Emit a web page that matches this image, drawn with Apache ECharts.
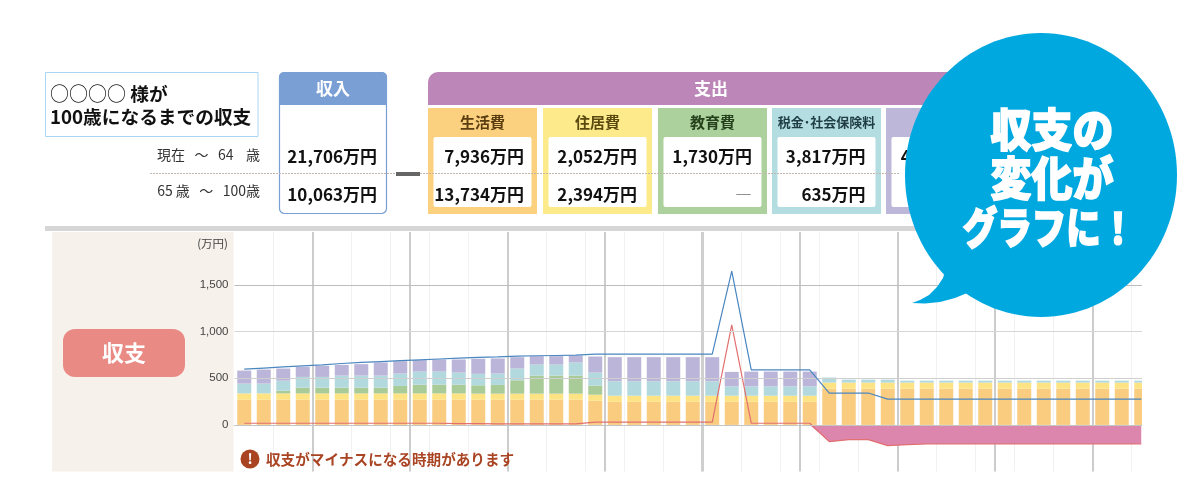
<!DOCTYPE html>
<html><head><meta charset="utf-8">
<style>html,body{margin:0;padding:0;background:#fff;overflow:hidden}#c{width:1201px;height:488px}</style>
<script src="https://cdn.jsdelivr.net/npm/echarts@6/dist/echarts.min.js"></script>
</head><body><div id="c"></div>
<script>
const ages = Array.from({length:47},(_,i)=>String(54+i));
const living =  [270,270,270,270,270,270,270,270,270,270,270,270,270,270,270,270,270,270,259,248,248,248,248,248,248,248,248,248,248,248,389,389,389,389,389,389,389,389,389,389,389,389,389,389,389,389,389];
const housing = [68,68,68,68,68,68,68,68,68,68,68,68,65,65,65,65,65,65,65,65,65,65,65,65,65,65,65,65,65,65,65,65,65,65,65,65,65,65,65,65,65,65,65,65,65,65,65];
const education=[0,0,29,62,62,62,62,62,80,94,94,94,90,94,144,194,194,194,97,0,0,0,0,0,0,0,0,0,0,0,0,0,0,0,0,0,0,0,0,0,0,0,0,0,0,0,0];
const taxes =   [105,105,108,115,115,129,129,129,133,140,140,130,123,122,126,119,119,141,141,155,155,155,155,155,155,101,101,101,101,101,54,32,32,32,21,21,21,21,21,21,21,21,21,21,21,21,21];
const others =  [140,151,130,108,119,115,123,141,133,123,130,140,162,162,122,90,90,75,172,259,259,259,259,259,259,155,158,158,158,158,0,0,0,0,0,0,0,0,0,0,0,0,0,0,0,0,0];
const income =  [598,610,622,634,645,659,670,680,689,698,707,716,725,731,738,742,745,749,760,760,760,760,760,760,760,1649,590,590,590,590,342,342,342,277,277,277,277,277,277,277,277,277,277,277,277,277,277];
const balance = [18,18,18,18,18,18,18,18,18,18,18,14,14,11,11,11,11,11,29,29,29,29,29,29,29,1073,18,18,18,18,-180,-158,-158,-223,-212,-205,-205,-205,-205,-205,-205,-205,-205,-205,-205,-205,-205];
const deficit = balance.map((v,i)=> i<29 ? null : Math.min(v,0));
const yTicks = ['0','500','1,000','1,500'];
const columns = ['生活費','住居費','教育費','税金･社会保険料','その他'];
const earlyCosts = ['7,936万円','2,052万円','1,730万円','3,817万円','4,171万円'];
const lateCosts = ['13,734万円','2,394万円','―','635万円','300万円'];
const incomeRows = ['21,706万円','10,063万円'];
const periods = ['現在   〜   64    歳','65 歳   〜   100歳'];

const F = '"Noto Sans CJK JP","Noto Sans",sans-serif';
const txt=(text,x,y,size,fill,o={})=>({type:'text',x,y,z:o.z??5,style:{text,fontFamily:o.family||F,fontSize:size,fontWeight:o.w||'bold',fill,align:o.a||'center',verticalAlign:'middle',textAlign:o.a||'center',textVerticalAlign:'middle',rich:o.rich}});
const rect=(x,y,w,h,fill,o={})=>({type:'rect',z:o.z??1,shape:{x,y,width:w,height:h,r:o.r||0},style:{fill,stroke:o.stroke,lineWidth:o.lw||0}});
const g=[];
// title block
g.push(rect(45.5,72.5,212.5,64,'#fff',{stroke:'#a9d6f2',lw:1}));
g.push(txt('{c|○○○○} 様が',50,94,18.7,'#111',{a:'left',rich:{c:{fontSize:19,fontWeight:'normal',fontFamily:F,fill:'#111'}}}));
g.push(txt('100歳になるまでの収支',50,117,18.7,'#111',{a:'left'}));
g.push(txt(periods[0],260,155,14,'#333',{a:'right',w:'normal'}));
g.push(txt(periods[1],260,191,14,'#333',{a:'right',w:'normal'}));
// income box
g.push(rect(279.5,72.5,107,141,'#fff',{stroke:'#7a9fd4',lw:1.2,r:5}));
g.push(rect(279,72,108,33,'#7a9fd4',{r:[5,5,0,0]}));
g.push(txt('収入',333,89,17,'#fff'));
incomeRows.forEach((t,i)=>g.push(txt(t,377,[157,195][i],17,'#111',{a:'right'})));
g.push(rect(396,172,24,4,'#666',{z:5}));
// expense block
g.push(rect(428,72,570,33,'#bc87b8',{r:[10,10,0,0]}));
g.push(txt('支出',711,89,17,'#fff'));
const colFill=['#fbd07f','#fdea8a','#acd19c','#b4dde2','#bdb8da'];
const colInk=['#5a3d10','#5a4a10','#24401c','#1f3d44','#333'];
const rightPad=[96,94,94,93.5,94.5];
[428,543,658,772,886].forEach((x,i)=>{
  g.push(rect(x,108,109,106,colFill[i]));
  g.push(rect(x+5.5,137,98,70,'#fff',{r:2}));
  g.push(txt(columns[i],x+54.5,122,i==3?13:15,colInk[i]));
  g.push(txt(earlyCosts[i],x+rightPad[i],157,17,'#111',{a:'right'}));
  g.push(txt(lateCosts[i],x+rightPad[i],195,17,lateCosts[i]=='―'?'#777':'#111',{a:'right'}));
});
// dotted divider
g.push({type:'line',z:4,shape:{x1:150,y1:173.5,x2:900,y2:173.5},style:{stroke:'#c3b6ac',lineWidth:1.2,lineDash:[2,1]}});
// section divider and side panel
g.push(rect(45,226,1097,5,'#d6d6d6'));
g.push(rect(52,232,181.5,239.5,'#f6f1ea',{z:-1}));
g.push(rect(63,329,122,48,'#e98a85',{r:12}));
g.push(txt('収支',124,353,22,'#fff'));
g.push(txt('(万円)',228,244,11.5,'#444',{a:'right',w:'normal'}));
// warning
g.push({type:'circle',z:10,shape:{cx:250,cy:459,r:9.5},style:{fill:'#a94423'}});
g.push(txt('!',250,459,14,'#fff',{z:11}));
g.push(txt('収支がマイナスになる時期があります',266,459,14.6,'#a94423',{a:'left',z:11}));
// right edge of plot
g.push(rect(1142,232,12,240,'#fff',{z:30}));
// speech bubble
g.push({type:'ellipse',z:40,shape:{cx:1041,cy:175,rx:136,ry:142},style:{fill:'#00a8e0'}});
g.push({type:'polygon',z:40,shape:{points:[[946,268],[943,278],[937,287],[929,295],[920,300],[912,303],[925,303.5],[940,302],[955,298],[972,291],[990,270]]},style:{fill:'#00a8e0'}});
const bub=(t,x,y,s,sy)=>g.push({type:'text',x,y,scaleY:sy,z:41,style:{text:t,fontFamily:F,fontSize:s,fontWeight:900,fill:'#fff',stroke:'#fff',lineWidth:1.4,align:'center',verticalAlign:'middle',textAlign:'center',textVerticalAlign:'middle'}});
bub('収支の',1052,130,41,1.1);
bub('変化が',1052,178,41,1.12);
bub('グラフに！',1049,228,34.5,1.25);

const barSeries=(name,data,color)=>({name,type:'bar',stack:'out',data,barWidth:14,itemStyle:{color},z:3,emphasis:{disabled:true}});
const xBase={type:'category',data:ages,boundaryGap:true,axisTick:{show:false},axisLabel:{show:false},axisLine:{show:false}};
const option={
  animation:false,
  grid:{left:234.5,top:232,width:916.5,height:239.5,containLabel:false},
  xAxis:[
    {...xBase,axisLine:{show:true,onZero:true,lineStyle:{color:'#bdbdbd',width:1}},splitLine:{show:true,showMinLine:false,lineStyle:{color:'#f1f1f1',width:1}}},
    {...xBase,position:'bottom',splitLine:{show:true,interval:(i)=>(i+1)%5===0&&i!==24,lineStyle:{color:'#cccccc',width:2}}},
    {...xBase,position:'top',splitLine:{show:true,showMinLine:false,interval:(i)=>i===0||i===24,lineStyle:{color:'#cfcfcf',width:3}}}
  ],
  yAxis:{type:'value',z:6,min:-500,max:2070,interval:500,axisLine:{show:false},axisTick:{show:false},
    axisLabel:{margin:6,padding:[3,0,0,0],fontFamily:'Liberation Sans, Arial, sans-serif',fontSize:11.5,color:'#444',
      formatter:v=>{const k=(v/500);return k>=0&&k<yTicks.length&&Number.isInteger(k)?yTicks[k]:'';}},
    splitLine:{show:true,lineStyle:{color:['transparent','#c4c4c4','#cfcfcf','#d6d6d6','#bdbdbd','transparent','transparent'],width:1}}},
  series:[
    barSeries('生活費',living,'#f9cc80'),
    barSeries('住居費',housing,'#fee384'),
    barSeries('教育費',education,'#a9cb98'),
    barSeries('税金・社会保険料',taxes,'#b2d9de'),
    barSeries('その他',others,'#bbb6d9'),
    {name:'不足',type:'line',data:deficit,symbol:'none',lineStyle:{width:0},areaStyle:{color:'#dd86ad',opacity:1,origin:0},z:4,connectNulls:false},
    {name:'収入',type:'line',data:income,symbol:'none',lineStyle:{color:'#4a86c0',width:1.2},z:6},
    {name:'収支',type:'line',data:balance,symbol:'none',lineStyle:{color:'#e27070',width:1.2},z:5}
  ],
  graphic:{elements:g}
};
const chart=echarts.init(document.getElementById('c'),null,{renderer:'canvas',width:1201,height:488});
chart.setOption(option);
</script></body></html>
